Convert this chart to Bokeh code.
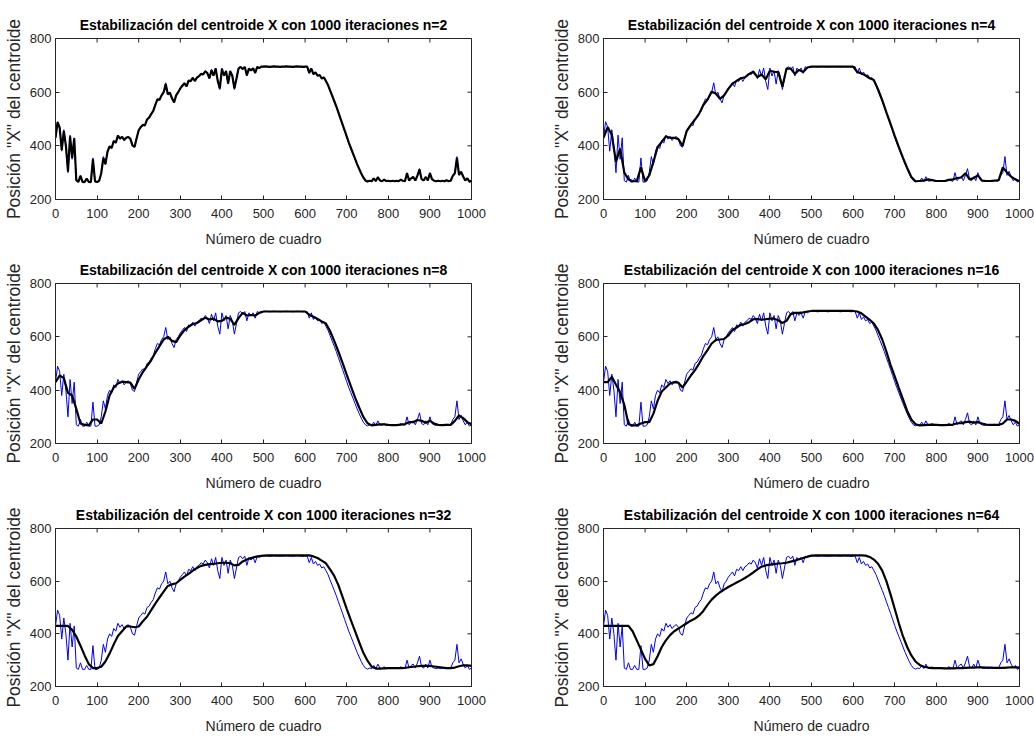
import math
from bokeh.plotting import figure
from bokeh.layouts import gridplot
from bokeh.models import Range1d, FixedTicker
from bokeh.embed import file_html
from bokeh.resources import INLINE

# ---------------- data ----------------
x_ticks = [0, 100, 200, 300, 400, 500, 600, 700, 800, 900, 1000]
y_ticks = [200, 400, 600, 800]
ventanas = [2, 4, 8, 16, 32, 64]

cuadros_5 = list(range(0, 1001, 5))
cuadros_10 = list(range(0, 1001, 10))

# raw centroid X position (blue), every 5 frames
x_azul = [
    430, 490, 470, 380, 460, 400, 300, 440, 350, 430,
    270, 265, 290, 265, 265, 280, 265, 265, 355, 265,
    265, 270, 300, 360, 330, 380, 400, 390, 420, 410,
    440, 425, 435, 420, 430, 435, 425, 400, 395, 430,
    460, 470, 480, 475, 500, 505, 520, 530, 555, 575,
    570, 590, 600, 635, 590, 600, 575, 560, 590, 600,
    615, 625, 635, 620, 645, 640, 655, 640, 655, 660,
    670, 665, 680, 670, 650, 685, 660, 690, 640, 610,
    690, 660, 680, 630, 680, 660, 610, 650, 690, 695,
    685, 695, 660, 690, 680, 690, 670, 695, 690, 695,
    695, 696, 695, 694, 695, 696, 695, 695, 694, 695,
    695, 696, 695, 695, 694, 695, 696, 695, 695, 694,
    695, 695, 670, 690, 665, 675, 660, 665, 650, 655,
    640, 625, 605, 585, 565, 545, 522, 500, 478, 455,
    432, 410, 390, 370, 350, 330, 312, 295, 280, 270,
    266, 270, 268, 280, 268, 285, 270, 268, 275, 268,
    270, 268, 270, 268, 270, 268, 275, 270, 268, 300,
    270, 280, 285, 270, 290, 315, 275, 270, 285, 270,
    300, 275, 270, 268, 270, 268, 270, 268, 272, 268,
    270, 290, 300, 360, 290, 305, 285, 270, 280, 265,
    270,
]

# stabilised centroid (black), n=2, every 5 frames
x_negro_n2 = [
    430, 488, 468, 385, 455, 400, 305, 435, 355, 428,
    272, 266, 288, 266, 265, 278, 266, 265, 350, 268,
    265, 270, 298, 355, 332, 378, 398, 392, 418, 412,
    438, 427, 433, 422, 430, 433, 426, 402, 396, 428,
    458, 470, 478, 476, 498, 505, 518, 530, 553, 573,
    572, 588, 600, 630, 592, 598, 577, 562, 588, 600,
    614, 624, 633, 622, 643, 641, 653, 642, 654, 660,
    668, 666, 678, 671, 652, 682, 662, 688, 642, 614,
    686, 662, 678, 633, 678, 661, 614, 650, 688, 694,
    686, 694, 663, 688, 681, 689, 672, 694, 690, 695,
    695, 696, 695, 694, 695, 696, 695, 695, 694, 695,
    695, 696, 695, 695, 694, 695, 696, 695, 695, 694,
    695, 695, 672, 688, 667, 674, 661, 664, 651, 655,
    642, 627, 607, 587, 567, 547, 525, 502, 480, 458,
    435, 412, 392, 372, 352, 332, 314, 297, 282, 271,
    267, 270, 268, 279, 269, 283, 271, 268, 274, 269,
    270, 268, 270, 268, 270, 268, 274, 270, 268, 298,
    271, 279, 284, 271, 289, 312, 276, 271, 284, 271,
    298, 276, 270, 268, 270, 268, 270, 268, 272, 268,
    270, 288, 298, 355, 292, 303, 286, 271, 279, 266,
    270,
]

# stabilised centroid (black), every 10 frames
x_negro_n4 = [
    430, 470, 440, 340, 390, 300, 275, 268, 268, 320,
    268, 290, 340, 395, 415, 435, 430, 430, 425, 400,
    455, 478, 498, 520, 552, 572, 602, 595, 575, 588,
    612, 632, 642, 652, 655, 668, 676, 656, 666, 648,
    680, 676, 675, 620, 688, 688, 668, 683, 675, 692,
    695, 695, 695, 695, 695, 695, 695, 695, 695, 695,
    695, 675, 670, 662, 652, 645, 610, 570, 525, 482,
    437, 395, 355, 318, 284, 268, 269, 270, 275, 272,
    269, 269, 269, 273, 275, 280, 282, 298, 275, 280,
    290, 270, 269, 269, 270, 272, 320, 300, 285, 275,
    268,
]

x_negro_n8 = [
    430, 455, 445, 390, 380, 330, 275, 270, 268, 290,
    290, 275, 320, 380, 410, 425, 432, 430, 428, 405,
    440, 468, 490, 512, 540, 565, 590, 600, 585, 580,
    605, 625, 638, 648, 652, 662, 672, 665, 668, 658,
    660, 672, 668, 645, 670, 690, 680, 682, 680, 690,
    695, 695, 695, 695, 695, 695, 695, 695, 695, 695,
    695, 683, 675, 667, 658, 650, 622, 585, 545, 502,
    458, 415, 373, 335, 300, 276, 268, 270, 272, 272,
    270, 269, 269, 271, 273, 280, 280, 288, 285, 278,
    285, 275, 270, 269, 270, 270, 285, 305, 295, 280,
    272,
]

x_negro_n16 = [
    430, 430, 450, 420, 392, 345, 272, 268, 268, 275,
    280, 280, 312, 360, 395, 410, 425, 430, 428, 410,
    432, 455, 475, 500, 528, 550, 575, 588, 590, 592,
    605, 625, 635, 645, 648, 655, 666, 667, 664, 666,
    668, 668, 662, 652, 660, 685, 690, 690, 692, 695,
    697, 697, 697, 697, 697, 697, 697, 697, 697, 697,
    697, 695, 688, 676, 664, 650, 625, 590, 545, 495,
    452, 408, 365, 322, 290, 272, 268, 269, 270, 271,
    270, 269, 269, 270, 271, 276, 276, 280, 282, 278,
    280, 275, 271, 270, 270, 270, 275, 290, 290, 285,
    274,
]

x_negro_n32 = [
    430, 430, 430, 430, 415, 390, 355, 318, 285, 270,
    270, 275, 295, 325, 360, 392, 410, 428, 428, 425,
    428, 448, 465, 490, 515, 538, 560, 582, 588, 592,
    605, 617, 628, 640, 650, 658, 662, 665, 666, 668,
    670, 670, 668, 660, 662, 675, 682, 688, 692, 695,
    697, 698, 698, 698, 698, 698, 698, 698, 698, 698,
    698, 698, 694, 688, 678, 668, 645, 620, 585, 540,
    495, 452, 410, 368, 328, 298, 275, 268, 268, 269,
    270, 270, 270, 270, 271, 273, 275, 277, 278, 278,
    278, 276, 274, 272, 270, 270, 272, 277, 280, 280,
    278,
]

x_negro_n64 = [
    430, 430, 430, 430, 430, 430, 430, 410, 375, 340,
    305, 280, 285, 315, 350, 375, 395, 410, 420, 430,
    440, 450, 458, 470, 487, 510, 530, 545, 558, 568,
    578, 586, 595, 603, 612, 622, 633, 645, 655, 660,
    663, 665, 667, 668, 670, 674, 678, 683, 688, 693,
    697, 698, 698, 698, 698, 698, 698, 698, 698, 698,
    698, 698, 698, 697, 692, 682, 666, 640, 600, 550,
    495, 440, 390, 350, 318, 295, 282, 275, 272, 270,
    270, 270, 269, 269, 269, 270, 270, 271, 272, 272,
    273, 273, 272, 272, 271, 271, 271, 272, 273, 273,
    272,
]

series_negras = [
    (cuadros_5, x_negro_n2),
    (cuadros_10, x_negro_n4),
    (cuadros_10, x_negro_n8),
    (cuadros_10, x_negro_n16),
    (cuadros_10, x_negro_n32),
    (cuadros_10, x_negro_n64),
]

# ---------------- styling ----------------
FONT = "Liberation Sans"
AX = "#262626"
col_width = [517, 517]
border_left = [54, 86]
border_right = [46, 15]
heights = [252, 245, 243]
border_top = [38, 31, 31]
border_bottom = [53, 54, 54]


def style_axis(ax, ticks):
    ax.ticker = FixedTicker(ticks=ticks)
    ax.major_tick_in = 4
    ax.major_tick_out = 0
    ax.minor_tick_in = 0
    ax.minor_tick_out = 0
    ax.axis_line_color = AX
    ax.major_tick_line_color = AX
    ax.major_label_text_font = FONT
    ax.major_label_text_color = AX
    ax.major_label_text_font_size = "13px"
    ax.axis_label_text_font = FONT
    ax.axis_label_text_font_style = "normal"
    ax.axis_label_text_color = AX


def make_fig(idx):
    row, col = divmod(idx, 2)
    n = ventanas[idx]
    p = figure(
        width=col_width[col],
        height=heights[row],
        x_range=Range1d(0, 1000),
        y_range=Range1d(200, 800),
        output_backend="svg",
        toolbar_location=None,
        min_border_left=border_left[col],
        min_border_right=border_right[col],
        min_border_top=border_top[row],
        min_border_bottom=border_bottom[row],
        background_fill_color="white",
        border_fill_color="white",
    )
    p.title.text = "Estabilización del centroide X con 1000 iteraciones n=%d" % n
    p.title.text_font = FONT
    p.title.text_font_size = "14px"
    p.title.text_font_style = "bold"
    p.title.align = "center"
    p.title.text_color = "black"
    p.title.standoff = 11

    p.xgrid.visible = False
    p.ygrid.visible = False
    p.outline_line_color = AX
    p.outline_line_width = 1

    style_axis(p.xaxis[0], x_ticks)
    style_axis(p.yaxis[0], y_ticks)
    p.xaxis.major_label_standoff = 9
    p.yaxis.major_label_standoff = 4
    p.xaxis.axis_label = "Número de cuadro"
    p.yaxis.axis_label = 'Posición "X" del centroide'
    p.xaxis.axis_label_text_font_size = "14px"
    p.yaxis.axis_label_text_font_size = "17.5px"
    p.xaxis.axis_label_standoff = 10
    p.yaxis.axis_label_standoff = 3

    # inward tick marks on the top and right edges of the box
    p.scatter(x_ticks, [y_ticks[-1]] * len(x_ticks), marker="dash",
              angle=math.pi / 2, size=8, line_color=AX, line_width=1)
    p.scatter([x_ticks[-1]] * len(y_ticks), y_ticks, marker="dash",
              size=8, line_color=AX, line_width=1)

    p.line(cuadros_5, x_azul, line_color="#0000ee", line_width=1)
    fx, fy = series_negras[idx]
    p.line(fx, fy, line_color="black", line_width=2.2)
    return p


figs = [make_fig(i) for i in range(6)]
grid = gridplot([[figs[0], figs[1]], [figs[2], figs[3]], [figs[4], figs[5]]],
                toolbar_location=None)

open("out.html", "w").write(file_html(grid, INLINE))
